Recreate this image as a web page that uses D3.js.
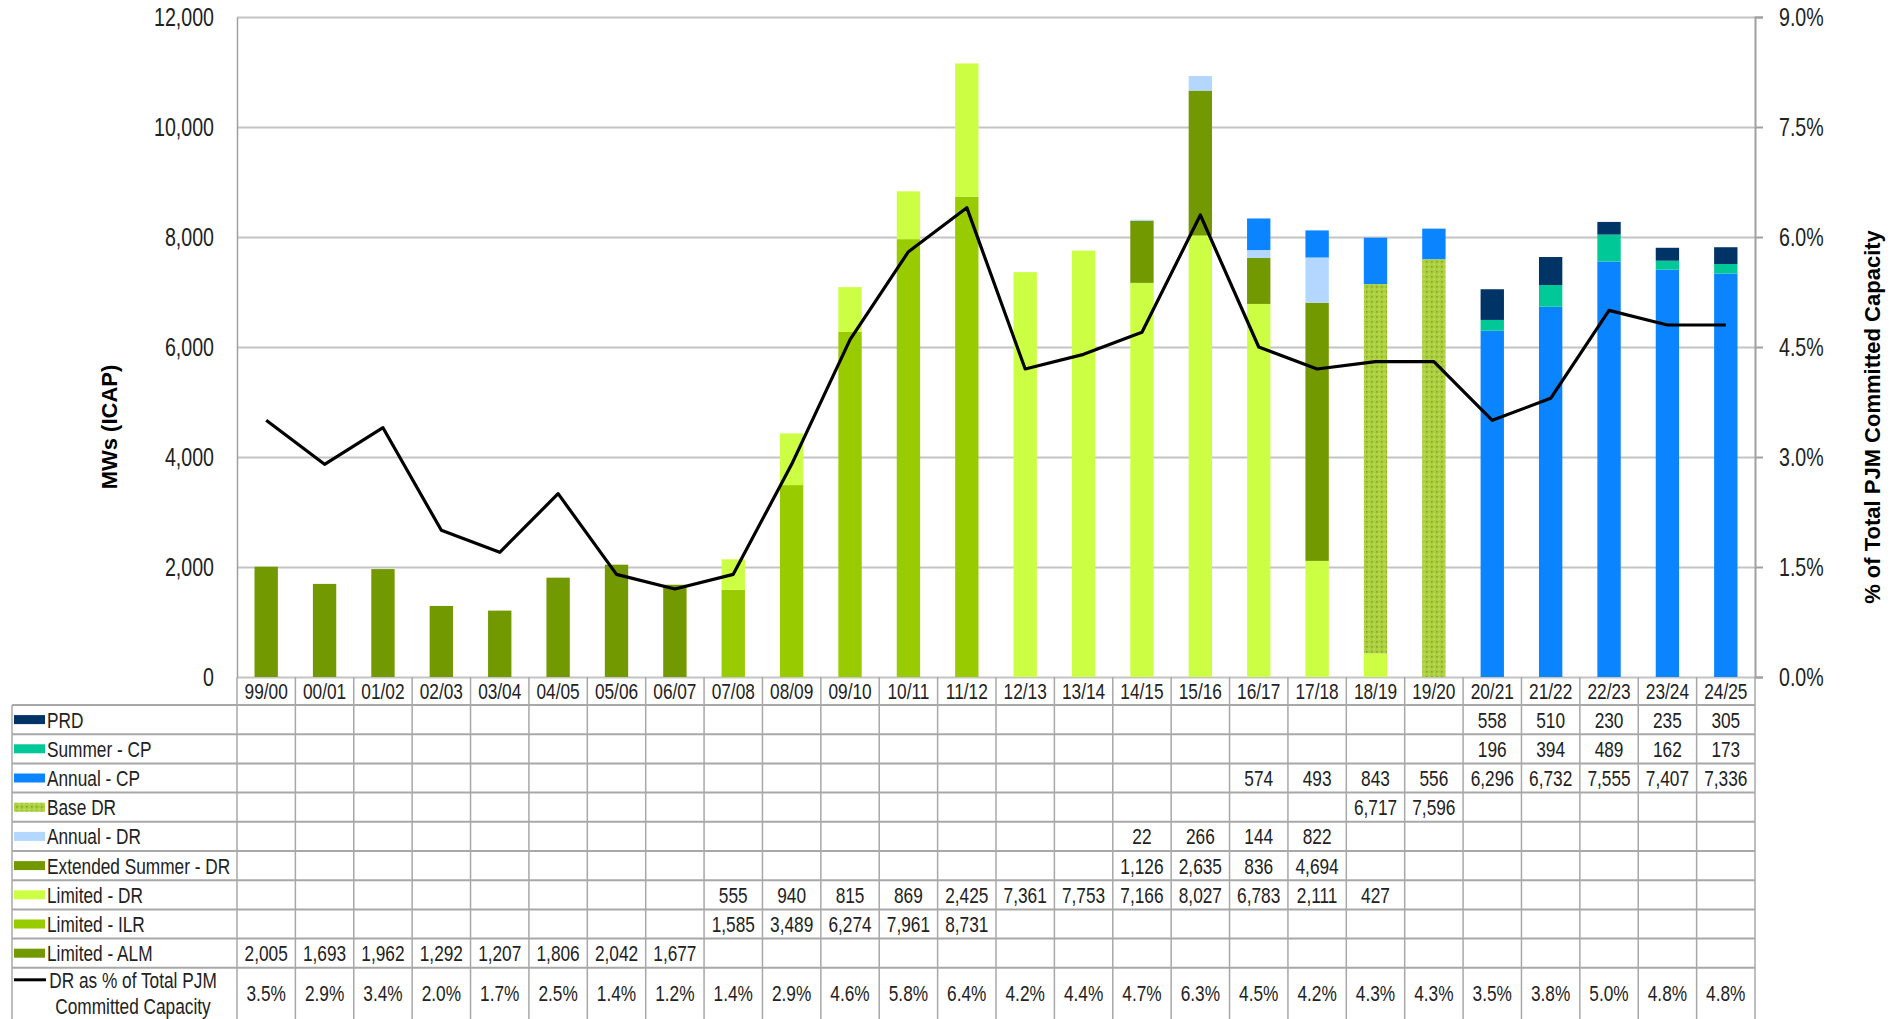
<!DOCTYPE html>
<html>
<head>
<meta charset="utf-8">
<script src="https://cdnjs.cloudflare.com/ajax/libs/d3/7.8.5/d3.min.js"></script>
<style>
  body { margin: 0; background: #fff; }
  .chart text { font-family: "Liberation Sans", Arial, sans-serif; fill: #222; }
  .chart .axisTitle { font-weight: bold; font-size: 22px; fill: #000; }
</style>
</head>
<body>
<div class="chart"></div>
<script>
// Data
var categories = ["99/00", "00/01", "01/02", "02/03", "03/04", "04/05", "05/06", "06/07", "07/08", "08/09",
                  "09/10", "10/11", "11/12", "12/13", "13/14", "14/15", "15/16", "16/17", "17/18", "18/19",
                  "19/20", "20/21", "21/22", "22/23", "23/24", "24/25"];

var limitedALM = [2005, 1693, 1962, 1292, 1207, 1806, 2042, 1677, null, null, null, null, null, null, null, null, null, null, null, null, null, null, null, null, null, null];
var limitedILR = [null, null, null, null, null, null, null, null, 1585, 3489, 6274, 7961, 8731, null, null, null, null, null, null, null, null, null, null, null, null, null];
var limitedDR  = [null, null, null, null, null, null, null, null, 555, 940, 815, 869, 2425, 7361, 7753, 7166, 8027, 6783, 2111, 427, null, null, null, null, null, null];
var extSummerDR = [null, null, null, null, null, null, null, null, null, null, null, null, null, null, null, 1126, 2635, 836, 4694, null, null, null, null, null, null, null];
var annualDR   = [null, null, null, null, null, null, null, null, null, null, null, null, null, null, null, 22, 266, 144, 822, null, null, null, null, null, null, null];
var baseDR     = [null, null, null, null, null, null, null, null, null, null, null, null, null, null, null, null, null, null, null, 6717, 7596, null, null, null, null, null];
var annualCP   = [null, null, null, null, null, null, null, null, null, null, null, null, null, null, null, null, null, 574, 493, 843, 556, 6296, 6732, 7555, 7407, 7336];
var summerCP   = [null, null, null, null, null, null, null, null, null, null, null, null, null, null, null, null, null, null, null, null, null, 196, 394, 489, 162, 173];
var prd        = [null, null, null, null, null, null, null, null, null, null, null, null, null, null, null, null, null, null, null, null, null, 558, 510, 230, 235, 305];

var drPct = [3.5, 2.9, 3.4, 2.0, 1.7, 2.5, 1.4, 1.2, 1.4, 2.9, 4.6, 5.8, 6.4, 4.2, 4.4, 4.7, 6.3, 4.5, 4.2, 4.3, 4.3, 3.5, 3.8, 5.0, 4.8, 4.8];

var mwTicks = [0, 2000, 4000, 6000, 8000, 10000, 12000];
var pctTicks = [0, 1.5, 3.0, 4.5, 6.0, 7.5, 9.0];

// stack order, bottom to top
var series = [
  {key: "alm",  name: "Limited - ALM",         values: limitedALM,  color: "#739900"},
  {key: "ilr",  name: "Limited - ILR",         values: limitedILR,  color: "#99cc00"},
  {key: "ldr",  name: "Limited - DR",          values: limitedDR,   color: "#ccff44"},
  {key: "ext",  name: "Extended Summer - DR",  values: extSummerDR, color: "#739900"},
  {key: "adr",  name: "Annual - DR",           values: annualDR,    color: "#b3d7ff"},
  {key: "base", name: "Base DR",               values: baseDR,      color: "url(#baseDots)"},
  {key: "acp",  name: "Annual - CP",           values: annualCP,    color: "#0a84ff"},
  {key: "scp",  name: "Summer - CP",           values: summerCP,    color: "#00c896"},
  {key: "prd",  name: "PRD",                   values: prd,         color: "#003366"}
];

var svgWidth = 1896;
var svgHeight = 1019;

var plot = {left: 237, right: 1755, top: 17, bottom: 677};
var tableLeft = 12;
var catRowBottom = 705;
var rowH = 29.2;
var narrowScale = 0.785;   // no Arial Narrow installed, squeeze Liberation Sans instead

var svg = d3.select(".chart")
            .append("svg")
            .attr("width", svgWidth)
            .attr("height", svgHeight);

// dotted fill for Base DR
var pattern = svg.append("defs")
                 .append("pattern")
                 .attr("id", "baseDots")
                 .attr("patternUnits", "userSpaceOnUse")
                 .attr("width", 5)
                 .attr("height", 5);
pattern.append("rect").attr("width", 5).attr("height", 5).attr("fill", "#abcf3e");
pattern.append("rect").attr("x", 1).attr("y", 1).attr("width", 1.6).attr("height", 1.6).attr("fill", "#86a81e");
pattern.append("rect").attr("x", 3.5).attr("y", 3.5).attr("width", 1.2).attr("height", 1.2).attr("fill", "#cfe977");

// Step 1: scales
var xCol = d3.scaleBand()
             .domain(categories)
             .range([plot.left, plot.right])
             .padding(0);
var step = xCol.bandwidth();
var barW = step * 0.4;

var yLeft = d3.scaleLinear().domain([0, 12000]).range([plot.bottom, plot.top]);
var yRight = d3.scaleLinear().domain([0, 9]).range([plot.bottom, plot.top]);

// Step 2: gridlines and axes
svg.append("g")
   .attr("transform", `translate(${plot.left}, 0)`)
   .call(d3.axisLeft(yLeft).tickValues(mwTicks).tickSize(-(plot.right - plot.left)).tickFormat(""))
   .call(g => g.select(".domain").remove())
   .call(g => g.selectAll(".tick line").attr("stroke", "#c4c4c4").attr("stroke-width", 2));

svg.append("g")
   .attr("transform", `translate(${plot.left}, 0)`)
   .call(d3.axisLeft(yLeft).tickValues(mwTicks).tickSize(0).tickPadding(23).tickFormat(d3.format(",")))
   .call(g => g.select(".domain").attr("stroke", "#a0a0a0").attr("stroke-width", 1.5))
   .call(g => g.selectAll("text").attr("class", "narrow").attr("font-size", 25).attr("font-family", null));

svg.append("g")
   .attr("transform", `translate(${plot.right}, 0)`)
   .call(d3.axisRight(yRight).tickValues(pctTicks).tickSize(8).tickPadding(16).tickFormat(d => d.toFixed(1) + "%"))
   .call(g => g.select(".domain").attr("stroke", "#a0a0a0").attr("stroke-width", 2))
   .call(g => g.selectAll(".tick line").attr("stroke", "#a0a0a0").attr("stroke-width", 2))
   .call(g => g.selectAll("text").attr("class", "narrow").attr("font-size", 25).attr("font-family", null));

// Step 3: stacked bars
var rows = categories.map(function (c, i) {
  var r = {cat: c};
  series.forEach(s => { r[s.key] = s.values[i] || 0; });
  return r;
});

var stacked = d3.stack().keys(series.map(s => s.key))(rows);

svg.append("g")
   .selectAll("g")
   .data(stacked)
   .enter()
   .append("g")
   .attr("fill", (d, i) => series[i].color)
   .selectAll("rect")
   .data(d => d.filter(p => p[1] - p[0] > 0))
   .enter()
   .append("rect")
   .attr("x", d => xCol(d.data.cat) + (step - barW) / 2)
   .attr("width", barW)
   .attr("y", d => yLeft(d[1]))
   .attr("height", d => yLeft(d[0]) - yLeft(d[1]));

// Step 4: DR % line
var line = d3.line()
             .x((d, i) => xCol(categories[i]) + step / 2)
             .y(d => yRight(d));

svg.append("path")
   .datum(drPct)
   .attr("d", line)
   .attr("fill", "none")
   .attr("stroke", "#000")
   .attr("stroke-width", 3.2)
   .attr("stroke-linejoin", "round");

// Step 5: data table below the chart
var table = svg.append("g");
var tableRows = series.slice().reverse();
var lastRowTop = catRowBottom + tableRows.length * rowH;
var gridColor = "#a8a8a8";

// horizontal rules
d3.range(tableRows.length + 1).forEach(function (i) {
  table.append("line")
       .attr("x1", tableLeft).attr("x2", plot.right)
       .attr("y1", catRowBottom + i * rowH).attr("y2", catRowBottom + i * rowH)
       .attr("stroke", gridColor).attr("stroke-width", 2);
});

// vertical rules
d3.range(categories.length + 1).forEach(function (j) {
  table.append("line")
       .attr("x1", plot.left + j * step).attr("x2", plot.left + j * step)
       .attr("y1", plot.bottom).attr("y2", svgHeight)
       .attr("stroke", gridColor).attr("stroke-width", 1.5);
});
table.append("line")
     .attr("x1", tableLeft).attr("x2", tableLeft)
     .attr("y1", catRowBottom).attr("y2", svgHeight)
     .attr("stroke", gridColor).attr("stroke-width", 1.5);

// category labels
table.selectAll(".catLabel")
     .data(categories)
     .enter()
     .append("text")
     .attr("class", "narrow")
     .attr("x", d => xCol(d) + step / 2)
     .attr("y", (plot.bottom + catRowBottom) / 2)
     .attr("dy", "0.36em")
     .attr("text-anchor", "middle")
     .attr("font-size", 22)
     .text(d => d);

var fmt = d3.format(",");

tableRows.forEach(function (s, r) {
  var cy = catRowBottom + r * rowH + rowH / 2;

  table.append("rect")
       .attr("x", 14).attr("y", cy - 4.5)
       .attr("width", 31).attr("height", 9)
       .attr("fill", s.color);

  table.append("text")
       .attr("class", "narrow")
       .attr("x", 47).attr("y", cy)
       .attr("dy", "0.36em")
       .attr("font-size", 22)
       .text(s.name);

  var cells = s.values.map((v, i) => ({v: v, cat: categories[i]}))
                      .filter(d => d.v != null);

  table.selectAll(".v-" + s.key)
       .data(cells)
       .enter()
       .append("text")
       .attr("class", "narrow")
       .attr("x", d => xCol(d.cat) + step / 2)
       .attr("y", cy)
       .attr("dy", "0.36em")
       .attr("text-anchor", "middle")
       .attr("font-size", 22)
       .text(d => fmt(d.v));
});

// last row: the DR % line
var pctY = (lastRowTop + svgHeight) / 2;
table.append("line")
     .attr("x1", 14).attr("x2", 46)
     .attr("y1", lastRowTop + 12).attr("y2", lastRowTop + 12)
     .attr("stroke", "#000").attr("stroke-width", 3);
table.append("text")
     .attr("class", "narrow")
     .attr("x", 133).attr("y", lastRowTop + 12)
     .attr("dy", "0.36em")
     .attr("text-anchor", "middle")
     .attr("font-size", 22)
     .text("DR as % of Total PJM");
table.append("text")
     .attr("class", "narrow")
     .attr("x", 133).attr("y", lastRowTop + 38)
     .attr("dy", "0.36em")
     .attr("text-anchor", "middle")
     .attr("font-size", 22)
     .text("Committed Capacity");

table.selectAll(".pct")
     .data(drPct)
     .enter()
     .append("text")
     .attr("class", "narrow")
     .attr("x", (d, i) => xCol(categories[i]) + step / 2)
     .attr("y", pctY)
     .attr("dy", "0.36em")
     .attr("text-anchor", "middle")
     .attr("font-size", 22)
     .text(d => d.toFixed(1) + "%");

// squeeze horizontally to mimic a narrow face
svg.selectAll("text.narrow").each(function () {
  var t = d3.select(this);
  t.attr("x", (+t.attr("x") || 0) / narrowScale)
   .attr("transform", `scale(${narrowScale}, 1)`);
});

// Step 6: axis titles
svg.append("text")
   .attr("class", "axisTitle")
   .attr("transform", `translate(109, ${(plot.top + plot.bottom) / 2 + 80}) rotate(-90)`)
   .attr("text-anchor", "middle")
   .attr("dy", "0.36em")
   .text("MWs (ICAP)");

svg.append("text")
   .attr("class", "axisTitle")
   .attr("transform", `translate(1872, ${(plot.top + plot.bottom) / 2 + 70}) rotate(-90)`)
   .attr("text-anchor", "middle")
   .attr("dy", "0.36em")
   .text("% of Total PJM Committed Capacity");
</script>
</body>
</html>
